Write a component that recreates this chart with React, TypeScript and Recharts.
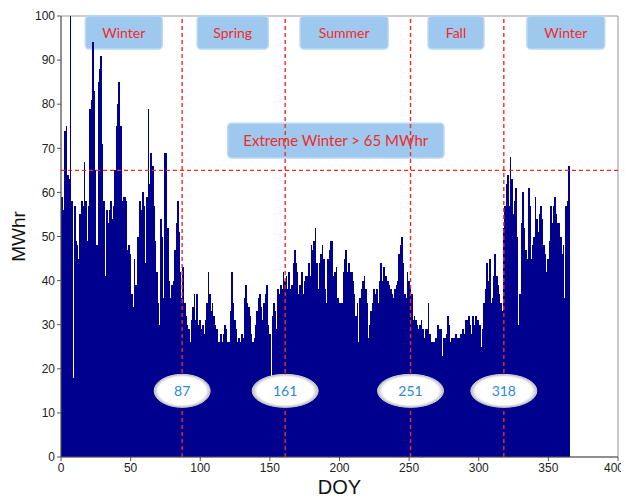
import {
  BarChart,
  Bar,
  XAxis,
  YAxis,
  ReferenceLine,
  ReferenceArea,
  ReferenceDot,
} from "recharts";

// Daily energy use, DOY 1..365
const DAILY_MWHR = [
  59, 56, 74, 75, 64, 63, 100, 58, 18, 57,
  49, 48, 45, 55, 58, 57, 67, 58, 49, 57,
  79, 81, 94, 83, 65, 48, 85, 88, 91, 71,
  58, 41, 56, 53, 56, 58, 54, 57, 65, 75,
  80, 85, 75, 58, 59, 59, 58, 47, 48, 46,
  37, 34, 45, 39, 50, 50, 58, 56, 60, 57,
  44, 59, 79, 62, 69, 66, 57, 49, 42, 35,
  30, 54, 50, 36, 69, 69, 52, 40, 36, 39,
  40, 47, 53, 58, 51, 42, 36, 43, 35, 32,
  30, 29, 26, 31, 34, 37, 31, 37, 30, 31,
  29, 30, 28, 31, 35, 42, 37, 33, 35, 32,
  30, 29, 26, 26, 28, 26, 28, 30, 29, 26,
  26, 33, 42, 35, 31, 29, 26, 27, 26, 28,
  27, 36, 39, 35, 34, 32, 28, 26, 27, 30,
  33, 36, 37, 34, 31, 35, 37, 39, 30, 28,
  17, 32, 35, 33, 29, 38, 37, 39, 38, 42,
  40, 41, 38, 42, 38, 39, 44, 47, 44, 42,
  37, 39, 42, 37, 40, 41, 41, 44, 41, 48,
  47, 49, 52, 44, 38, 44, 46, 48, 45, 38,
  35, 45, 47, 49, 49, 41, 42, 43, 36, 35,
  35, 35, 42, 45, 47, 42, 44, 42, 42, 40,
  37, 32, 35, 26, 36, 38, 40, 41, 38, 35,
  27, 30, 33, 35, 38, 37, 38, 35, 40, 44,
  40, 43, 41, 41, 40, 39, 38, 37, 36, 38,
  39, 40, 46, 48, 50, 44, 37, 36, 42, 40,
  39, 37, 31, 32, 31, 30, 29, 30, 31, 29,
  27, 29, 29, 35, 28, 26, 26, 26, 27, 27,
  30, 29, 29, 23, 27, 27, 28, 32, 30, 26,
  27, 27, 27, 28, 27, 27, 28, 28, 29, 28,
  31, 31, 32, 30, 28, 32, 30, 32, 31, 31,
  30, 25, 29, 35, 38, 44, 40, 45, 35, 36,
  41, 46, 41, 39, 37, 35, 33, 52, 57, 62,
  64, 57, 68, 63, 55, 58, 61, 50, 30, 37,
  53, 60, 52, 47, 45, 61, 57, 45, 48, 50,
  59, 54, 51, 55, 57, 54, 48, 46, 42, 45,
  49, 57, 53, 57, 59, 55, 53, 53, 50, 46,
  48, 36, 57, 58, 66,
];

const X_TICKS = [0, 50, 100, 150, 200, 250, 300, 350, 400];
const Y_TICKS = [0, 10, 20, 30, 40, 50, 60, 70, 80, 90, 100];

// season banners along the top (label + DOY extent of the box)
const SEASON_NAMES = ["Winter", "Spring", "Summer", "Fall", "Winter"];
const SEASON_FROM = [17.5, 97.8, 171.7, 263.6, 334.6];
const SEASON_TO = [72.7, 148.8, 234.9, 303.7, 390.5];

const TRANSITION_DAYS = [87, 161, 251, 318];
const EXTREME_LIMIT = 65;

const NAVY = "#00008f";
const RED = "#ee2b2b";
const BOX_BLUE = "#9fc8ee";
const AXIS_FONT = "'Liberation Sans', Arial, sans-serif";
const NOTE_FONT = "Lato, 'Open Sans', sans-serif";

const chartData = DAILY_MWHR.map((v, i) => ({ doy: i + 1, mwhr: v }));

const softBox = (p: any) => (
  <rect
    x={p.x}
    y={p.y}
    width={p.width}
    height={p.height}
    rx={4}
    fill={BOX_BLUE}
    stroke="#b9d8f4"
    strokeWidth={1.5}
  />
);

// Day bars sit 1.4px apart; draw each 1.7px wide around its centre with crisp
// edges so neighbours always meet and no seams show.
const DAY_BAR_W = 1.7;
const dayBar = (p: any) => (
  <rect
    x={p.x + p.width / 2 - DAY_BAR_W / 2}
    y={p.y}
    width={DAY_BAR_W}
    height={p.height}
    fill={NAVY}
    shapeRendering="crispEdges"
  />
);

function OvalTag({ cx, cy, text }: { cx?: number; cy?: number; text: string }) {
  const rx = text.length > 2 ? 33 : 28;
  const id = `oval-grad-${text}`;
  return (
    <g>
      <defs>
        <radialGradient id={id} cx="50%" cy="50%" r="50%">
          <stop offset="84%" stopColor="#ffffff" />
          <stop offset="100%" stopColor="#bdbdbd" />
        </radialGradient>
      </defs>
      <ellipse cx={cx} cy={cy} rx={rx} ry={16.5} fill={`url(#${id})`} stroke="#cfcfcf" />
      <text
        x={cx}
        y={cy}
        textAnchor="middle"
        dominantBaseline="central"
        fill="#2b8ad3"
        fontSize={14}
        fontFamily={NOTE_FONT}
      >
        {text}
      </text>
    </g>
  );
}

const YTitle = ({ viewBox }: any) => {
  const cx = viewBox.x + 2.5;
  const cy = viewBox.y + viewBox.height / 2;
  return (
    <text
      x={cx}
      y={cy}
      transform={`rotate(-90 ${cx} ${cy})`}
      textAnchor="middle"
      dominantBaseline="central"
      fontSize={19}
      fontFamily={AXIS_FONT}
      fill="#111"
    >
      MWhr
    </text>
  );
};

const XTitle = ({ viewBox }: any) => (
  <text
    x={viewBox.x + viewBox.width / 2}
    y={viewBox.y + 30}
    textAnchor="middle"
    dominantBaseline="central"
    fontSize={20}
    fontFamily={AXIS_FONT}
    fill="#111"
  >
    DOY
  </text>
);

export default function App() {
  return (
    <BarChart
      width={615}
      height={489}
      data={chartData}
      margin={{ top: 8, right: 5, bottom: 0, left: 8 }}
      barCategoryGap={0}
      barGap={0}
    >
      <XAxis
        dataKey="doy"
        type="number"
        domain={[0, 400]}
        ticks={X_TICKS}
        height={40}
        tickSize={4}
        tick={{ fill: "#222", fontSize: 12, fontFamily: AXIS_FONT }}
        axisLine={{ stroke: "#555" }}
        tickLine={{ stroke: "#555" }}
        label={{ content: <XTitle /> }}
      />
      <YAxis
        type="number"
        domain={[0, 100]}
        ticks={Y_TICKS}
        width={45}
        tickSize={4}
        tick={{ fill: "#222", fontSize: 12, fontFamily: AXIS_FONT }}
        axisLine={{ stroke: "#555" }}
        tickLine={{ stroke: "#555" }}
        label={{ content: <YTitle /> }}
      />
      <Bar dataKey="mwhr" fill={NAVY} shape={dayBar} isAnimationActive={false} />
      <ReferenceArea x1={0} x2={400} y1={0} y2={100} fill="none" stroke="#999" />
      <ReferenceLine
        y={EXTREME_LIMIT}
        stroke={RED}
        strokeWidth={1.4}
        strokeDasharray="4 3"
      />
      {TRANSITION_DAYS.map((d) => (
        <ReferenceLine
          key={`v-${d}`}
          x={d}
          stroke={RED}
          strokeWidth={1.4}
          strokeDasharray="4 3"
        />
      ))}
      {SEASON_NAMES.map((name, i) => (
        <ReferenceArea
          key={`s-${i}`}
          x1={SEASON_FROM[i]}
          x2={SEASON_TO[i]}
          y1={92.5}
          y2={100}
          shape={softBox}
          label={{ value: name, position: "center", fill: RED, fontSize: 14, fontFamily: NOTE_FONT }}
        />
      ))}
      <ReferenceArea
        x1={119.7}
        x2={275}
        y1={67.8}
        y2={75.7}
        shape={softBox}
        label={{
          value: `Extreme Winter > ${EXTREME_LIMIT} MWhr`,
          position: "center",
          fill: RED,
          fontSize: 15,
          fontFamily: NOTE_FONT,
        }}
      />
      {TRANSITION_DAYS.map((d) => (
        <ReferenceDot
          key={`o-${d}`}
          x={d}
          y={15}
          shape={(p: any) => <OvalTag cx={p.cx} cy={p.cy} text={String(d)} />}
        />
      ))}
    </BarChart>
  );
}
